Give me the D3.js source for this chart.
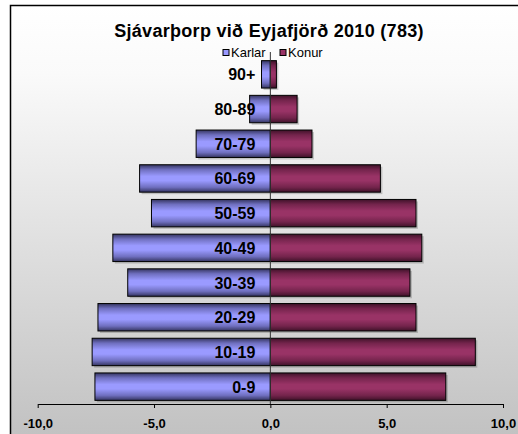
<!DOCTYPE html>
<html><head><meta charset="utf-8">
<script src="https://cdn.jsdelivr.net/npm/d3@7"></script>
<style>html,body{margin:0;padding:0;background:#fff;}svg{display:block;font-family:Arial,"Liberation Sans",sans-serif;}</style>
</head><body>
<script>
const ageGroups = ["0-9","10-19","20-29","30-39","40-49","50-59","60-69","70-79","80-89","90+"];
const karlar = [7.54, 7.66, 7.41, 6.13, 6.77, 5.11, 5.62, 3.19, 0.89, 0.38];
const konur  = [7.54, 8.81, 6.26, 6.00, 6.51, 6.26, 4.73, 1.79, 1.15, 0.26];
const xTicks = [-10, -5, 0, 5, 10];
const seriesNames = ["Karlar", "Konur"];
const titleText = "Sjávarþorp við Eyjafjörð 2010 (783)";

const W = 518, H = 434;
const svg = d3.select("body").append("svg").attr("width", W).attr("height", H);
const defs = svg.append("defs");

const bg = defs.append("linearGradient").attr("id","bg").attr("x1",0).attr("y1",0).attr("x2",0).attr("y2",1);
bg.append("stop").attr("offset","0%").attr("stop-color","#ffffff");
bg.append("stop").attr("offset","15%").attr("stop-color","#fafafa");
bg.append("stop").attr("offset","100%").attr("stop-color","#bebebe");

function barGrad(id, dark, mid, light){
  const g = defs.append("linearGradient").attr("id",id).attr("x1",0).attr("y1",0).attr("x2",0).attr("y2",1);
  [[0,dark],[0.18,mid],[0.42,light],[0.58,light],[0.82,mid],[1,dark]].forEach(([o,c])=>
    g.append("stop").attr("offset",o).attr("stop-color",c));
}
barGrad("gM","#34345f","#6f6fbf","#9a9aff");
barGrad("gF","#3f1229","#74244c","#993366");

// frame
svg.append("rect").attr("x",10.5).attr("y",5.5).attr("width",W+20).attr("height",H+20)
  .attr("fill","url(#bg)").attr("stroke","#000").attr("stroke-width",1.5);

const x = d3.scaleLinear().domain([-10,10]).range([37.7,503]);
const y = d3.scaleBand().domain(ageGroups).range([404,57]).paddingInner(0.21).paddingOuter(0.105);

const plot = svg.append("g");
const data = ageGroups.map((a,i)=>({age:a, m:karlar[i], f:konur[i]}));

// shadows
plot.selectAll(".shM").data(data).join("rect")
  .attr("x", d=>x(-d.m)+2).attr("y", d=>y(d.age)+2)
  .attr("width", d=>x(0)-x(-d.m)).attr("height", y.bandwidth())
  .attr("fill","rgba(0,0,0,0.18)");
plot.selectAll(".shF").data(data).join("rect")
  .attr("x", x(0)+2).attr("y", d=>y(d.age)+2)
  .attr("width", d=>x(d.f)-x(0)).attr("height", y.bandwidth())
  .attr("fill","rgba(0,0,0,0.18)");

plot.selectAll(".bM").data(data).join("rect")
  .attr("x", d=>x(-d.m)).attr("y", d=>y(d.age))
  .attr("width", d=>x(0)-x(-d.m)).attr("height", y.bandwidth())
  .attr("fill","url(#gM)").attr("stroke","#000").attr("stroke-width",1);
plot.selectAll(".bF").data(data).join("rect")
  .attr("x", x(0)).attr("y", d=>y(d.age))
  .attr("width", d=>x(d.f)-x(0)).attr("height", y.bandwidth())
  .attr("fill","url(#gF)").attr("stroke","#000").attr("stroke-width",1);

// zero line
svg.append("line").attr("x1",x(0)).attr("x2",x(0)).attr("y1",52).attr("y2",404)
  .attr("stroke","#333").attr("stroke-width",1);

// age labels
plot.selectAll(".lab").data(data).join("text")
  .attr("x", x(0)-15).attr("y", d=>y(d.age)+y.bandwidth()/2+6)
  .attr("text-anchor","end").attr("font-size",16).attr("font-weight","bold").attr("fill","#000")
  .text(d=>d.age);

// x axis
const ax = d3.axisBottom(x).tickValues(xTicks).tickSize(4).tickSizeOuter(0)
  .tickFormat(d=>d3.format(".1f")(d).replace(".",",").replace("−","-"));
const axG = svg.append("g").attr("transform","translate(0,404)").call(ax);
axG.select(".domain").attr("stroke","#000");
axG.selectAll(".tick line").attr("stroke","#000");
axG.selectAll("text").attr("font-size",13).attr("font-weight","bold").attr("fill","#000")
  .attr("font-family","Arial, 'Liberation Sans', sans-serif").attr("dy",null).attr("y",24);

// title
svg.append("text").attr("x",269).attr("y",37).attr("text-anchor","middle")
  .attr("font-size",18).attr("letter-spacing",0.3).attr("font-weight","bold").attr("fill","#000").text(titleText);

// legend
const legend = svg.append("g");
const lx = [223, 280], fills = ["#9999ff","#993366"];
seriesNames.forEach((n,i)=>{
  legend.append("rect").attr("x",lx[i]).attr("y",49.5).attr("width",6).attr("height",6)
    .attr("fill",fills[i]).attr("stroke","#000").attr("stroke-width",1);
  legend.append("text").attr("x",lx[i]+8).attr("y",56.5).attr("font-size",13).attr("fill","#000").text(n);
});
</script>
</body></html>
